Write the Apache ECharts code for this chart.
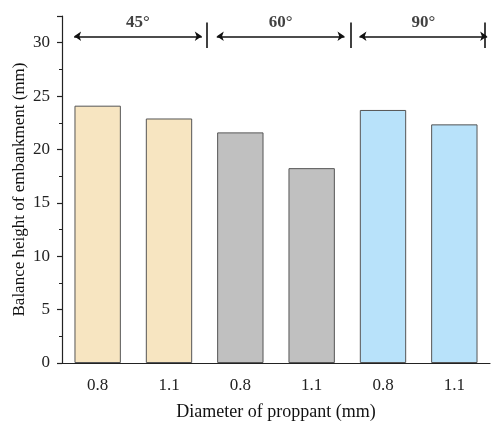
<!DOCTYPE html>
<html>
<head>
<meta charset="utf-8">
<script src="https://cdn.jsdelivr.net/npm/echarts@6/dist/echarts.min.js"></script>
<style>
  html, body { margin: 0; padding: 0; background: #fff; }
  #chart { width: 491px; height: 421px; }
</style>
</head>
<body>
<div id="chart"></div>
<script>
// Proppant diameter per bar, grouped by angle (two bars per group)
const categories = ['0.8', '1.1', '0.8', '1.1', '0.8', '1.1'];
const heights = [24.1, 22.9, 21.6, 18.25, 23.7, 22.35];
const groupLabels = ['45°', '60°', '90°'];
const yTicks = [0, 5, 10, 15, 20, 25, 30];

const SERIF = '"Liberation Serif", "DejaVu Serif", serif';
const groupFill = ['#F7E5C1', '#C0C0C0', '#B8E2FA'];

// bracket annotations for each group, in category-index units
const arrowY = 30.6;
const arrowSpans = groupLabels.map((_, g) => [2 * g - 0.33, 2 * g + 1.46]);
const sepX = [1.53, 3.55, 5.43];

const chart = echarts.init(document.getElementById('chart'));

chart.setOption({
  animation: false,
  grid: { left: 62, right: 1, top: 16, bottom: 58, containLabel: false, outerBoundsMode: 'none' },
  xAxis: [
    {
      type: 'category',
      data: categories,
      name: 'Diameter of proppant (mm)',
      nameLocation: 'middle',
      nameGap: 40,
      nameMoveOverlap: false,
      nameTextStyle: { fontFamily: SERIF, fontSize: 18, color: '#111' },
      axisLine: { onZero: false, lineStyle: { color: '#222', width: 1.2 } },
      axisTick: { alignWithLabel: true, length: 5, lineStyle: { color: '#222', width: 1.2 } },
      axisLabel: { fontFamily: SERIF, fontSize: 17, color: '#222', margin: 14 },
      splitLine: { show: false }
    },
    {
      type: 'category',
      data: categories,
      position: 'bottom',
      axisLine: { show: false, onZero: false },
      axisTick: { length: 3, lineStyle: { color: '#222', width: 1 } },
      axisLabel: { show: false },
      splitLine: { show: false }
    },
    {
      type: 'value',
      min: -0.5,
      max: 5.5,
      show: false,
      axisLine: { onZero: false }
    }
  ],
  yAxis: [
    {
      type: 'value',
      min: 0,
      max: 32.5,
      interval: 2.5,
      position: 'left',
      name: 'Balance height of embankment (mm)',
      nameLocation: 'middle',
      nameGap: 34,
      nameMoveOverlap: false,
      nameTextStyle: { fontFamily: SERIF, fontSize: 17, color: '#111' },
      axisLine: { show: true, onZero: false, lineStyle: { color: '#222', width: 1.2 } },
      axisTick: { show: true, length: 3, lineStyle: { color: '#222', width: 1 } },
      axisLabel: {
        fontFamily: SERIF, fontSize: 17, color: '#222', margin: 12,
        formatter: v => (yTicks.indexOf(v) >= 0 ? String(v) : '')
      },
      splitLine: { show: false }
    },
    {
      type: 'value',
      min: 0,
      max: 32.5,
      interval: 5,
      position: 'left',
      axisLine: { show: false, onZero: false },
      axisTick: { show: true, length: 5, lineStyle: { color: '#222', width: 1.2 } },
      axisLabel: { show: false },
      splitLine: { show: false }
    }
  ],
  series: [
    {
      type: 'bar',
      xAxisIndex: 0,
      yAxisIndex: 0,
      barWidth: '65%',
      data: heights.map((v, i) => ({
        value: v,
        itemStyle: { color: groupFill[Math.floor(i / 2)] }
      })),
      itemStyle: { borderColor: '#555', borderWidth: 1 }
    },
    {
      type: 'lines',
      coordinateSystem: 'cartesian2d',
      xAxisIndex: 2,
      yAxisIndex: 0,
      symbol: ['arrow', 'arrow'],
      symbolSize: [7, 7],
      lineStyle: { color: '#111', width: 1.5, opacity: 1 },
      data: arrowSpans.map(s => ({ coords: [[s[0], arrowY], [s[1], arrowY]] })),
      z: 5
    },
    {
      type: 'lines',
      coordinateSystem: 'cartesian2d',
      xAxisIndex: 2,
      yAxisIndex: 0,
      symbol: ['none', 'none'],
      lineStyle: { color: '#111', width: 1.6, opacity: 1 },
      data: sepX.map(x => ({ coords: [[x, 29.5], [x, 31.9]] })),
      z: 5
    },
    {
      type: 'scatter',
      xAxisIndex: 2,
      yAxisIndex: 0,
      symbolSize: 0,
      data: arrowSpans.map((s, g) => ({ value: [(s[0] + s[1]) / 2, arrowY], name: groupLabels[g] })),
      label: {
        show: true,
        position: 'top',
        distance: 5,
        formatter: p => p.name,
        fontFamily: SERIF,
        fontSize: 17,
        fontWeight: 'bold',
        color: '#111'
      },
      silent: true,
      z: 6
    }
  ]
});
</script>
</body>
</html>
